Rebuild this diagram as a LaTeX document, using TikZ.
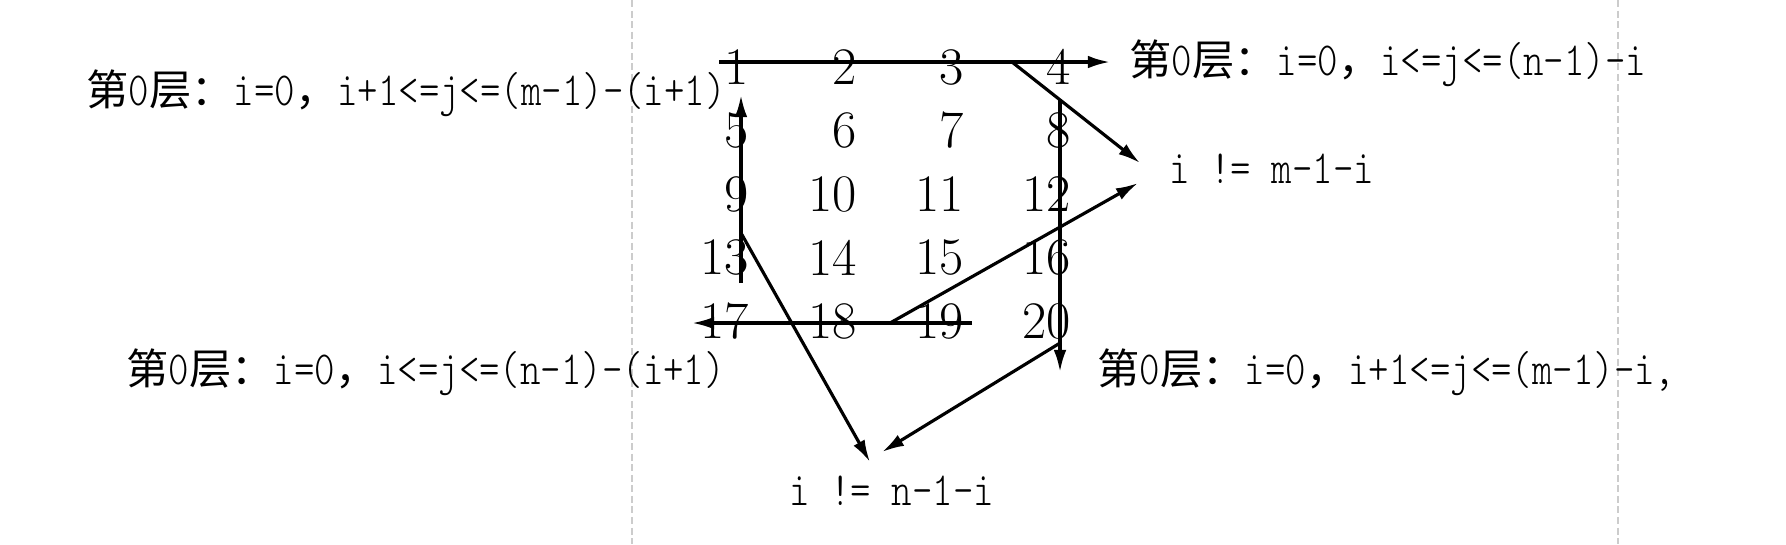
\documentclass[tikz,border=0pt]{standalone}
\usepackage{fontspec}
\usetikzlibrary{arrows.meta}
\newfontfamily\lbfont[FakeStretch=0.82]{lmmonolt10-regular.otf}
\newfontfamily\zhfont[Scale=0.89]{Noto Sans CJK SC}
\newcommand{\zh}[1]{{\zhfont #1}}
\begin{document}
\begin{tikzpicture}[x=0.01cm,y=-0.01cm,>={Latex[length=6.3pt,width=3.6pt]},line width=0.9pt,
  num/.style={anchor=east,inner sep=0pt,font=\fontsize{15pt}{18pt}\selectfont},
  lbl/.style={anchor=base west,inner sep=0pt,font=\fontsize{13.5pt}{16pt}\lbfont},
  margin/.style={line width=0.4pt,gray!40,dash pattern=on 2pt off 1pt}]
\useasboundingbox (0,0) rectangle (1786,544);
\draw[margin] (632,0) -- (632,544);
\draw[margin] (1618,0) -- (1618,544);
% the 4x5 matrix
\foreach \r in {0,...,4}
  \foreach \c/\xc in {1/750,2/858,3/965,4/1072}
    {\pgfmathtruncatemacro\k{4*\r+\c}
     \pgfmathsetmacro\yc{67+63.5*\r}
     \node[num] (n\k) at (\xc,\yc) {\k};}
% conditions of layer 0
\node[lbl] (ltop) at (85,105) {\zh{第}0\zh{层：}i=0\zh{，}i+1<=j<=(m-1)-(i+1)};
\node[lbl] (rtop) at (1128,75) {\zh{第}0\zh{层：}i=0\zh{，}i<=j<=(n-1)-i};
\node[lbl] (mne) at (1168,183) {i != m-1-i};
\node[lbl] (lbot) at (125,384) {\zh{第}0\zh{层：}i=0\zh{，}i<=j<=(n-1)-(i+1)};
\node[lbl] (rbot) at (1096,384) {\zh{第}0\zh{层：}i=0\zh{，}i+1<=j<=(m-1)-i,};
\node[lbl] (nne) at (788,505) {i != n-1-i};
% walk round the border
\coordinate (top0) at (719,62);   \coordinate (top1) at (1110,62);
\coordinate (top2) at (1012,62);  \coordinate (mne0) at (1140,163);
\coordinate (rgt0) at (1060,100); \coordinate (rgt1) at (1060,372);
\coordinate (rgt2) at (1060,343); \coordinate (nne0) at (882,452);
\coordinate (bot0) at (972,323);  \coordinate (bot1) at (692,323);
\coordinate (bot2) at (890,323);  \coordinate (mne1) at (1138,183);
\coordinate (lft0) at (741,283);  \coordinate (lft1) at (741,95);
\coordinate (lft2) at (741,233);  \coordinate (nne1) at (870,462);
\draw[->] (top0) -- (top1);
\draw[->] (top2) -- (mne0);
\draw[->] (rgt0) -- (rgt1);
\draw[->] (rgt2) -- (nne0);
\draw[->] (bot0) -- (bot1);
\draw[->] (bot2) -- (mne1);
\draw[->] (lft0) -- (lft1);
\draw[->] (lft2) -- (nne1);
\end{tikzpicture}
\end{document}
